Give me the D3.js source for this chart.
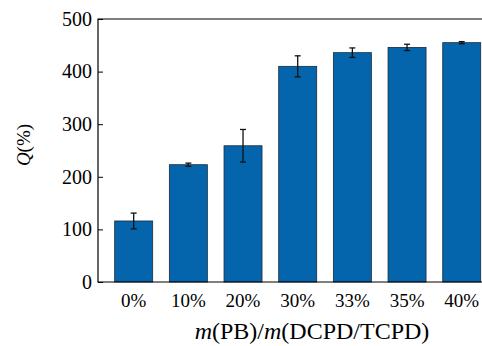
<!doctype html>
<html>
  <head>
    <script src="https://cdnjs.cloudflare.com/ajax/libs/d3/7.8.5/d3.min.js"></script>
    <style>
      body { margin: 0; background: #fff; }
      text { font-family: "Liberation Serif", "Times New Roman", serif; }
    </style>
  </head>
  <body>
    <svg width="482" height="346"></svg>
    <script>
        var categories = ["0%", "10%", "20%", "30%", "33%", "35%", "40%"];
        var values = [116, 223, 259, 410, 436, 446, 455];
        var errors = [15, 3, 31, 20, 9, 6, 2];
        var yTicks = [0, 100, 200, 300, 400, 500];

        var svg = d3.select("svg");
        var plotLeft = 98, plotTop = 19, plotBottom = 282;

        var x = d3.scaleBand()
            .domain(categories)
            .range([plotLeft, 497.4])
            .paddingInner(0.305)
            .paddingOuter(0.305);

        var y = d3.scaleLinear()
            .domain([0, 500])
            .range([plotBottom, plotTop]);

        // bars
        svg.selectAll("rect.bar")
            .data(values)
            .enter()
            .append("rect")
                .attr("class", "bar")
                .attr("x", (d, i) => x(categories[i]))
                .attr("y", d => y(d))
                .attr("width", x.bandwidth())
                .attr("height", d => y(0) - y(d))
                .style("fill", "#0565ac")
                .style("stroke", "#1a2a3a")
                .style("stroke-width", 0.8);

        // error bars
        var eb = svg.selectAll("g.err")
            .data(values)
            .enter()
            .append("g")
                .attr("class", "err")
                .attr("transform", (d, i) => "translate(" + (x(categories[i]) + x.bandwidth() / 2) + ",0)");

        eb.append("line")
            .attr("y1", (d, i) => y(d + errors[i]))
            .attr("y2", (d, i) => y(d - errors[i]))
            .style("stroke", "#111").style("stroke-width", 1.3);
        eb.append("line")
            .attr("x1", -3).attr("x2", 3)
            .attr("y1", (d, i) => y(d + errors[i]))
            .attr("y2", (d, i) => y(d + errors[i]))
            .style("stroke", "#111").style("stroke-width", 1.3);
        eb.append("line")
            .attr("x1", -3).attr("x2", 3)
            .attr("y1", (d, i) => y(d - errors[i]))
            .attr("y2", (d, i) => y(d - errors[i]))
            .style("stroke", "#111").style("stroke-width", 1.3);

        // y axis with inward ticks
        var yAxis = svg.append("g")
            .attr("transform", "translate(" + plotLeft + ",0)")
            .call(d3.axisRight(y).tickValues(yTicks).tickSize(5).tickFormat(""));
        yAxis.select(".domain").remove();
        yAxis.selectAll(".tick line").style("stroke", "#000");

        svg.selectAll("text.ylab")
            .data(yTicks)
            .enter()
            .append("text")
                .attr("class", "ylab")
                .attr("x", plotLeft - 6)
                .attr("y", d => y(d))
                .attr("dy", "0.34em")
                .attr("text-anchor", "end")
                .style("font-size", "20px")
                .text(d => d);

        // frame: left, top, bottom
        svg.append("path")
            .attr("d", "M482," + plotTop + "H" + plotLeft + "V" + plotBottom + "H482")
            .style("fill", "none")
            .style("stroke", "#000")
            .style("stroke-width", 1.2);

        // x tick labels
        svg.selectAll("text.xlab")
            .data(categories)
            .enter()
            .append("text")
                .attr("class", "xlab")
                .attr("x", d => x(d) + x.bandwidth() / 2)
                .attr("y", 307)
                .attr("text-anchor", "middle")
                .style("font-size", "19px")
                .text(d => d);

        // axis titles
        var xt = svg.append("text")
            .attr("x", 312)
            .attr("y", 339)
            .attr("text-anchor", "middle")
            .style("font-size", "24px");
        xt.append("tspan").style("font-style", "italic").text("m");
        xt.append("tspan").text("(PB)/");
        xt.append("tspan").style("font-style", "italic").text("m");
        xt.append("tspan").text("(DCPD/TCPD)");

        var yt = svg.append("text")
            .attr("transform", "translate(30,145) rotate(-90)")
            .attr("text-anchor", "middle")
            .style("font-size", "19px");
        yt.append("tspan").style("font-style", "italic").text("Q");
        yt.append("tspan").text("(%)");
    </script>
  </body>
</html>
